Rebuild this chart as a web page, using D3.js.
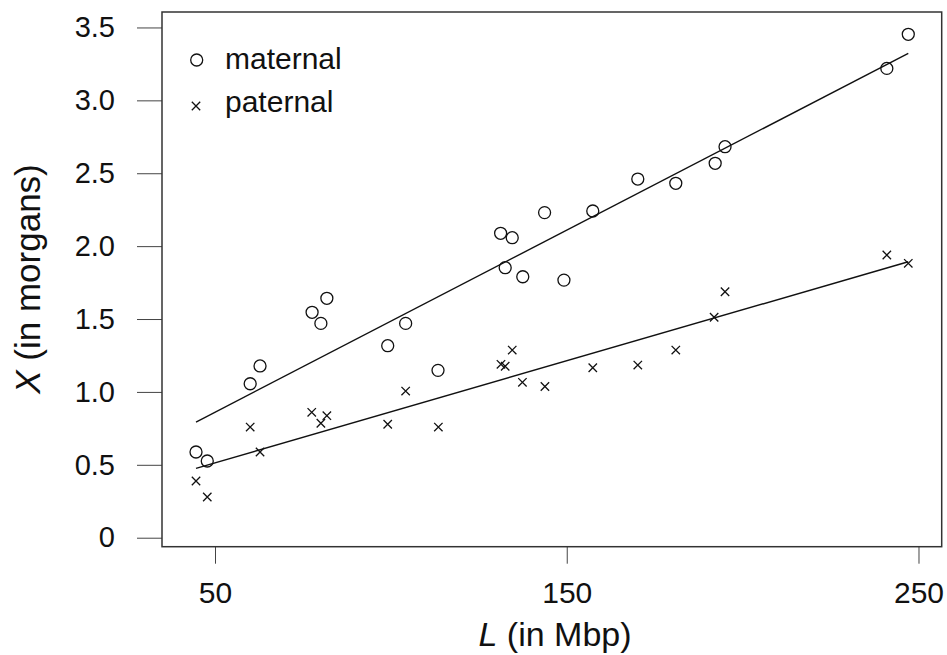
<!DOCTYPE html>
<html>
<head>
<meta charset="utf-8">
<script src="https://cdn.jsdelivr.net/npm/d3@7"></script>
<style>
  html, body { margin: 0; padding: 0; background: #fff; }
  svg { display: block; font-family: "Liberation Sans", Arial, sans-serif; }
</style>
</head>
<body>
<svg id="chart" width="947" height="655"></svg>
<script>
// Chromosome length L (Mbp) and genetic length X (morgans)
const maternalL = [44.6, 47.8, 60.0, 62.8, 77.6, 80.1, 81.8, 99.1, 104.2, 113.4, 131.2, 132.5, 134.5, 137.5, 143.7, 149.2, 157.4, 170.2, 181.0, 192.2, 195.0, 241.0, 247.1];
const maternalX = [0.588, 0.526, 1.056, 1.178, 1.546, 1.470, 1.642, 1.317, 1.470, 1.148, 2.088, 1.852, 2.058, 1.790, 2.230, 1.767, 2.241, 2.460, 2.431, 2.568, 2.682, 3.219, 3.453];
const paternalL = [44.6, 47.8, 60.0, 62.8, 77.5, 80.1, 81.8, 99.1, 104.2, 113.5, 131.3, 132.5, 134.5, 137.4, 143.8, 157.4, 170.2, 181.0, 191.9, 195.0, 241.0, 247.1];
const paternalX = [0.389, 0.279, 0.759, 0.588, 0.860, 0.785, 0.837, 0.778, 1.006, 0.759, 1.189, 1.176, 1.287, 1.066, 1.037, 1.166, 1.184, 1.287, 1.512, 1.687, 1.939, 1.882];
// fitted lines: [intercept, slope]
const maternalFit = [0.2366, 0.012487];
const paternalFit = [0.1634, 0.0070];
const xTicks = [50, 150, 250];
const yTicks = [0, 0.5, 1.0, 1.5, 2.0, 2.5, 3.0, 3.5];
const yTickLabels = ["0", "0.5", "1.0", "1.5", "2.0", "2.5", "3.0", "3.5"];
const legendLabels = ["maternal", "paternal"];

(function () {
const svg = d3.select("#chart");
const mLeft = 162, mRight = 941.7, mTop = 12, mBottom = 546.7;

const x = d3.scaleLinear().domain([34.93, 256.6]).range([mLeft, mRight]);
const y = d3.scaleLinear().domain([-0.0617, 3.606]).range([mBottom, mTop]);

const ink = "#111";

// Axes
const yAxis = d3.axisLeft(y).tickValues(yTicks).tickSize(25).tickPadding(22)
  .tickFormat((d, i) => yTickLabels[i]);
const gy = svg.append("g").attr("transform", `translate(${mLeft},0)`).call(yAxis);
gy.select(".domain").remove();
gy.selectAll(".tick line").attr("stroke", "#444").attr("stroke-width", 1);
gy.selectAll(".tick text").attr("font-size", 29).attr("fill", ink)
  .attr("font-family", "'Liberation Sans', Arial, sans-serif");

const xAxis = d3.axisBottom(x).tickValues(xTicks).tickSize(17).tickPadding(18)
  .tickFormat(d3.format("d"));
const gx = svg.append("g").attr("transform", `translate(0,${mBottom})`).call(xAxis);
gx.select(".domain").remove();
gx.selectAll(".tick line").attr("stroke", "#444").attr("stroke-width", 1);
gx.selectAll(".tick text").attr("font-size", 30).attr("fill", ink)
  .attr("font-family", "'Liberation Sans', Arial, sans-serif");

// Box
svg.append("rect").attr("x", mLeft).attr("y", mTop)
  .attr("width", mRight - mLeft).attr("height", mBottom - mTop)
  .attr("fill", "none").attr("stroke", "#333").attr("stroke-width", 1.5);

// Fit lines
function fitLine(fit, Ls) {
  const ext = d3.extent(Ls);
  return ext.map(v => [x(v), y(fit[0] + fit[1] * v)]);
}
const line = d3.line();
svg.append("path").attr("d", line(fitLine(maternalFit, maternalL)))
  .attr("fill", "none").attr("stroke", ink).attr("stroke-width", 1.4);
svg.append("path").attr("d", line(fitLine(paternalFit, paternalL)))
  .attr("fill", "none").attr("stroke", ink).attr("stroke-width", 1.4);

// Points
const mat = maternalL.map((v, i) => [v, maternalX[i]]);
const pat = paternalL.map((v, i) => [v, paternalX[i]]);

svg.append("g").selectAll("circle").data(mat).join("circle")
  .attr("cx", d => x(d[0])).attr("cy", d => y(d[1])).attr("r", 6)
  .attr("fill", "none").attr("stroke", ink).attr("stroke-width", 1.3);

const cs = 4.2;
const crossPath = (cx, cy) => `M${cx - cs},${cy - cs}L${cx + cs},${cy + cs}M${cx - cs},${cy + cs}L${cx + cs},${cy - cs}`;
svg.append("g").selectAll("path").data(pat).join("path")
  .attr("d", d => crossPath(x(d[0]), y(d[1])))
  .attr("fill", "none").attr("stroke", ink).attr("stroke-width", 1.3);

// Legend
const lg = svg.append("g");
lg.append("circle").attr("cx", 196.7).attr("cy", 60).attr("r", 6)
  .attr("fill", "none").attr("stroke", ink).attr("stroke-width", 1.3);
lg.append("path").attr("d", crossPath(196, 106))
  .attr("fill", "none").attr("stroke", ink).attr("stroke-width", 1.3);
lg.append("text").attr("x", 225).attr("y", 69).attr("font-size", 30).attr("fill", ink)
  .text(legendLabels[0]);
lg.append("text").attr("x", 225).attr("y", 112).attr("font-size", 30).attr("fill", ink)
  .text(legendLabels[1]);

// Axis titles
const xt = svg.append("text").attr("x", 555).attr("y", 646).attr("text-anchor", "middle")
  .attr("font-size", 34).attr("fill", ink);
xt.append("tspan").attr("font-style", "italic").text("L");
xt.append("tspan").text(" (in Mbp)");

const yt = svg.append("text").attr("transform", "translate(40,279) rotate(-90)")
  .attr("text-anchor", "middle").attr("font-size", 35).attr("fill", ink);
yt.append("tspan").attr("font-style", "italic").text("X");
yt.append("tspan").text(" (in morgans)");
})();
</script>
</body>
</html>
